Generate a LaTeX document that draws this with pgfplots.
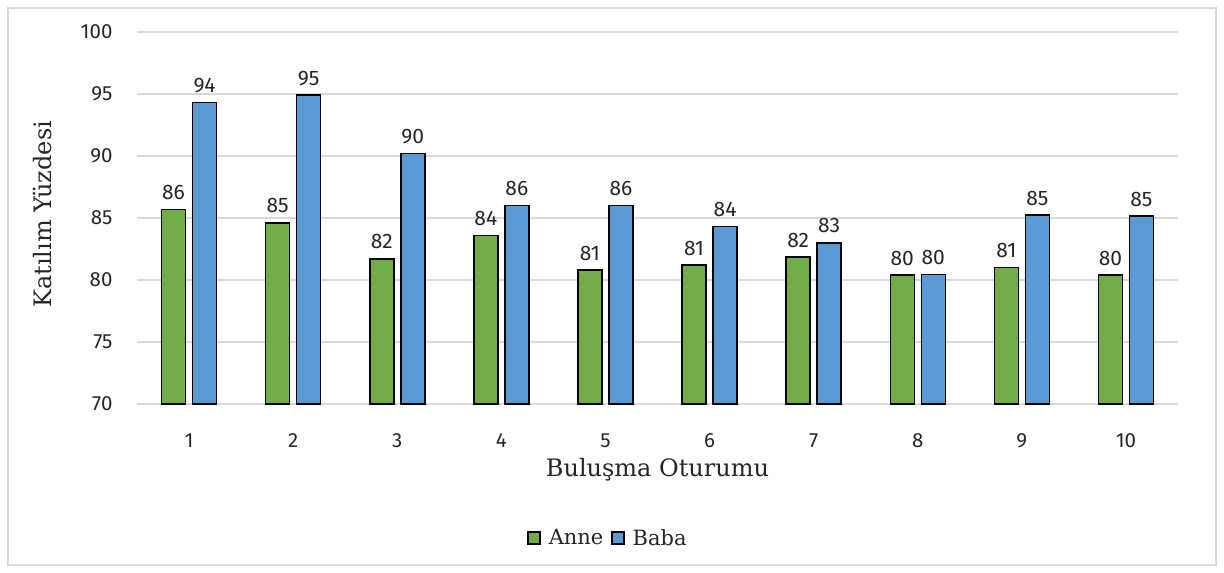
\documentclass[border=0pt]{standalone}
\usepackage{fontspec}
\setmainfont{DejaVu Serif}
\newfontfamily\numfont{Fira Sans}
\usepackage{pgfplots}
\pgfplotsset{compat=1.18}
\definecolor{anne}{HTML}{70AD47}
\definecolor{baba}{HTML}{5B9BD5}
\definecolor{gridc}{HTML}{D9D9D9}
\begin{document}
\begin{tikzpicture}
\begin{axis}[
  scale only axis, width=1041pt, height=372pt,
  xmin=0.5, xmax=10.5, ymin=70, ymax=100,
  ytick={70,75,...,100}, xtick={1,...,10},
  axis line style={draw=none},
  ymajorgrids, grid style={gridc, line width=1.5pt},
  major tick length=0pt,
  /pgf/number format/assume math mode=true,
  tick label style={font=\numfont\fontsize{20.5}{22}\selectfont, text=black!85},
  yticklabel style={xshift=-21pt},
  xticklabel style={yshift=-26pt},
  xlabel={Buluşma Oturumu}, ylabel={Katılım Yüzdesi},
  label style={font=\fontsize{24}{28}\selectfont, text=black!85},
  xlabel style={at={(axis description cs:0.5,0)}, anchor=center, yshift=-66pt},
  ylabel style={at={(axis description cs:0,0.51)}, anchor=center, yshift=95pt},
  ybar=7pt, bar width=24pt,
  nodes near coords={\pgfmathprintnumber[fixed,precision=0]{\pgfplotspointmeta}},
  nodes near coords style={font=\numfont\fontsize{21}{23}\selectfont, text=black!85, inner sep=9pt},
  legend columns=2,
  legend style={at={(axis description cs:0.4525,-0.36)}, anchor=center, draw=none,
    font=\fontsize{21}{24}\selectfont, text=black!85, column sep=6pt,
    nodes={inner sep=2pt}},
  legend image code/.code={\draw[#1, draw=black, line width=1.3pt] (0pt,-6pt) rectangle (12pt,6pt);},
]
\addplot[fill=anne, draw=black, line width=1.5pt] coordinates {(1,85.7) (2,84.6) (3,81.7) (4,83.6) (5,80.8) (6,81.2) (7,81.85) (8,80.4) (9,81.0) (10,80.4)};
\addplot[fill=baba, draw=black, line width=1.5pt] coordinates {(1,94.3) (2,94.9) (3,90.2) (4,86.0) (5,86.0) (6,84.3) (7,83.0) (8,80.45) (9,85.24) (10,85.16)};
\legend{Anne, Baba}
\end{axis}
\draw[gridc, line width=1.5pt] (-129pt,-161pt) rectangle (1079pt,396pt);
\path (-137pt,-169pt) rectangle (1087pt,404pt);
\end{tikzpicture}
\end{document}
